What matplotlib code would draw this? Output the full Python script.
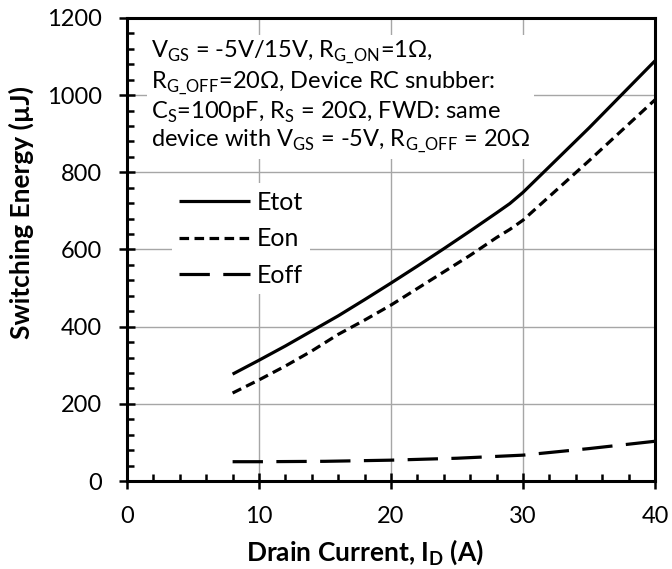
import matplotlib
matplotlib.use("Agg")
import matplotlib.pyplot as plt
from matplotlib.ticker import MultipleLocator

plt.rcParams['font.family'] = ['Lato', 'DejaVu Sans']
plt.rcParams['mathtext.fontset'] = 'custom'
plt.rcParams['mathtext.rm'] = 'Lato'
plt.rcParams['mathtext.bf'] = 'Lato:bold'
plt.rcParams['mathtext.fallback'] = 'stix'

# Data
id_tot = [8, 10, 12, 14, 16, 18, 20, 22, 24, 26, 28, 29, 30, 35, 40]
e_tot = [277, 313, 350, 389, 428, 470, 513, 557, 602, 648, 695, 719, 748, 915, 1089]
id_on = [8, 10, 12, 14, 16, 18, 20, 22, 24, 26, 28, 29, 30, 35, 40]
e_on = [228, 262, 298, 337, 380, 417, 456, 499, 542, 585, 631, 652, 676, 830, 988]
id_off = [8, 10, 15, 20, 25, 30, 35, 40]
e_off = [50, 50, 51, 54, 59, 67, 84, 103]

x_ticks = [0, 10, 20, 30, 40]
y_ticks = [0, 200, 400, 600, 800, 1000, 1200]

fig = plt.figure(figsize=(6.72, 5.69), dpi=100)
ax = fig.add_axes([127/672, 1-481/569, (655-127)/672, (481-18)/569])

lw = 2.3
ax.plot(id_tot, e_tot, color='black', lw=lw, solid_capstyle='butt', label='Etot', zorder=3)
ax.plot(id_on, e_on, color='black', lw=lw, dashes=(3.0, 1.7), label='Eon', zorder=3)
ax.plot(id_off, e_off, color='black', lw=lw, dashes=(9.5, 4.2), label='Eoff', zorder=3)

ax.set_xlim(0, 40)
ax.set_ylim(0, 1200)
ax.set_xticks(x_ticks)
ax.set_yticks(y_ticks)
ax.xaxis.set_minor_locator(MultipleLocator(2))
ax.yaxis.set_minor_locator(MultipleLocator(40))
ax.grid(True, which='major', color='#a6a6a6', lw=1.0, zorder=0)
ax.set_axisbelow(True)

for s in ax.spines.values():
    s.set_linewidth(2.2)
    s.set_color('black')

ax.tick_params(which='major', direction='inout', length=12, width=1.8, labelsize=17, colors='black')
ax.tick_params(axis='x', which='major', pad=12)
ax.tick_params(axis='y', which='major', pad=12)
ax.tick_params(which='minor', direction='in', length=5, width=1.8)

ax.set_xlabel('Drain Current, I$_\\mathdefault{D}$ (A)', fontsize=19, fontweight='bold')
ax.set_ylabel('Switching Energy (µJ)', fontsize=19, fontweight='bold')
ax.xaxis.set_label_coords(0.45, -0.122)
ax.yaxis.set_label_coords(-0.176, 0.58)

txt = ("V$_\\mathdefault{GS}$ = -5V/15V, R$_\\mathdefault{G\\_ON}$=1Ω,\n"
       "R$_\\mathdefault{G\\_OFF}$=20Ω, Device RC snubber:\n"
       "C$_\\mathdefault{S}$=100pF, R$_\\mathdefault{S}$ = 20Ω, FWD: same\n"
       "device with V$_\\mathdefault{GS}$ = -5V, R$_\\mathdefault{G\\_OFF}$ = 20Ω")
ax.text(0.045, 0.955, txt, transform=ax.transAxes, fontsize=17, va='top', ha='left',
        linespacing=1.15, zorder=4,
        bbox=dict(facecolor='white', edgecolor='none', pad=3))

leg = ax.legend(loc='upper left', bbox_to_anchor=(0.061, 0.67), frameon=True, fontsize=18,
                handlelength=2.85, handletextpad=0.25, labelspacing=0.54, borderpad=0.3,
                fancybox=False)
leg.get_frame().set_edgecolor('none')
leg.get_frame().set_facecolor('white')
leg.get_frame().set_alpha(1)

fig.savefig('out.png', dpi=100)
